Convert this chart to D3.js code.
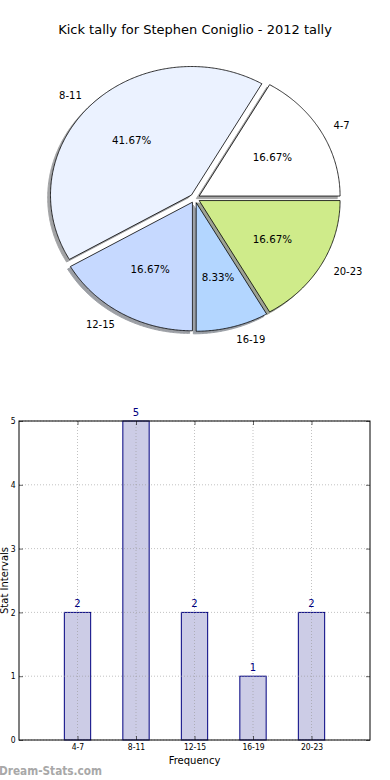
<!DOCTYPE html>
<html><head><meta charset="utf-8">
<script src="https://cdn.jsdelivr.net/npm/d3@7"></script>
<style>html,body{margin:0;padding:0;background:#fff;}svg{display:block;}</style>
</head><body>
<script>
const title = "Kick tally for Stephen Coniglio - 2012 tally";
const categories = ["4-7","8-11","12-15","16-19","20-23"];
const values = [2,5,2,1,2];
const yTicks = [0,1,2,3,4,5];
const pieColors = ["#ffffff","#ebf2ff","#c6d9ff","#b3d6ff","#cfeb8a"];
const explode = [0.035,0.035,0.035,0.035,0.035];

const W = 390, H = 780;
const svg = d3.select("body").append("svg").attr("width", W).attr("height", H);
const FONT = "DejaVu Sans, sans-serif";

svg.append("text").attr("x", 195).attr("y", 34).attr("text-anchor","middle")
  .attr("font-family", FONT).attr("font-size", 13).attr("fill","#000").text(title);

// ---------- Pie ----------
const cx = 194.9, cy = 198.3, rx = 140.9, ry = 128.6;
const px = d3.scaleLinear().domain([-1,1]).range([cx-rx, cx+rx]);
const py = d3.scaleLinear().domain([-1,1]).range([cy+ry, cy-ry]);
const total = d3.sum(values);
const arcs = d3.pie().sort(null).startAngle(0).endAngle(2*Math.PI)(values);
const line = d3.line().x(d=>px(d[0])).y(d=>py(d[1]));
function wedgePts(a0, a1, ox, oy){
  const pts = [[ox, oy]];
  const n = Math.max(8, Math.ceil((a1-a0)/0.01));
  for(let i=0;i<=n;i++){ const t = a0 + (a1-a0)*i/n; pts.push([ox+Math.cos(t), oy+Math.sin(t)]); }
  return line(pts) + "Z";
}
function dark(c){ const r = d3.rgb(c); return d3.rgb(r.r*0.3, r.g*0.3, r.b*0.3).toString(); }
const gPie = svg.append("g");
const wedges = arcs.map((a,i)=>{
  const m = (a.startAngle + a.endAngle)/2;
  return {i, a0:a.startAngle, a1:a.endAngle, m, ox: explode[i]*Math.cos(m), oy: explode[i]*Math.sin(m)};
});
// shadows
gPie.selectAll("path.shadow").data(wedges).join("path").attr("class","shadow")
  .attr("d", d=>wedgePts(d.a0, d.a1, d.ox-0.02, d.oy-0.02))
  .attr("fill", d=>dark(pieColors[d.i])).attr("stroke", d=>dark(pieColors[d.i]))
  .attr("stroke-width",1).attr("opacity",0.5);
gPie.selectAll("path.wedge").data(wedges).join("path").attr("class","wedge")
  .attr("d", d=>wedgePts(d.a0, d.a1, d.ox, d.oy))
  .attr("fill", d=>pieColors[d.i]).attr("stroke","#000").attr("stroke-width",0.8)
  .attr("stroke-linejoin","miter");
// labels
gPie.selectAll("text.lab").data(wedges).join("text").attr("class","lab")
  .attr("x", d=>px(d.ox + 1.1*Math.cos(d.m)))
  .attr("y", d=>py(d.oy + 1.1*Math.sin(d.m)))
  .attr("dy","0.35em")
  .attr("text-anchor", d=>Math.cos(d.m)>0 ? "start" : "end")
  .attr("font-family", FONT).attr("font-size", 10).text(d=>categories[d.i]);
const fmt = d3.format(".2f");
gPie.selectAll("text.pct").data(wedges).join("text").attr("class","pct")
  .attr("x", d=>px(d.ox + 0.6*Math.cos(d.m)))
  .attr("y", d=>py(d.oy + 0.6*Math.sin(d.m)))
  .attr("dy","0.35em").attr("text-anchor","middle")
  .attr("font-family", FONT).attr("font-size", 10.3).text(d=>fmt(values[d.i]/total*100)+"%");

// ---------- Bar ----------
const L = 19, R = 370, T = 421, B = 740;
const x = d3.scaleLinear().domain([0,6]).range([L,R]);
const y = d3.scaleLinear().domain([0,5]).range([B,T]);
const xPos = categories.map((c,i)=>i+1);
const bw = 0.45;
const gB = svg.append("g");
gB.selectAll("rect.bar").data(values).join("rect").attr("class","bar")
  .attr("x", (d,i)=>x(xPos[i]-bw/2)).attr("width", x(bw)-x(0))
  .attr("y", d=>y(d)).attr("height", d=>y(0)-y(d))
  .attr("fill","#ccccE6").attr("stroke","#000080").attr("stroke-width",1);
// grid (on top)
gB.selectAll("line.vg").data(xPos).join("line").attr("class","vg")
  .attr("x1",d=>x(d)).attr("x2",d=>x(d)).attr("y1",T).attr("y2",B)
  .attr("stroke","#999").attr("stroke-width",0.6).attr("stroke-dasharray","1,2");
gB.selectAll("line.hg").data(yTicks).join("line").attr("class","hg")
  .attr("x1",L).attr("x2",R).attr("y1",d=>y(d)).attr("y2",d=>y(d))
  .attr("stroke","#999").attr("stroke-width",0.6).attr("stroke-dasharray","1,2");
// ticks inward
const yAxL = d3.axisLeft(y).tickValues(yTicks).tickSize(-4).tickPadding(3.5).tickFormat(d3.format("d"));
const gyl = gB.append("g").attr("transform",`translate(${L},0)`).call(yAxL);
const yAxR = d3.axisRight(y).tickValues(yTicks).tickSize(-4).tickFormat("");
const gyr = gB.append("g").attr("transform",`translate(${R},0)`).call(yAxR);
const xAxB = d3.axisBottom(x).tickValues(xPos).tickSize(-4).tickPadding(4).tickFormat((d,i)=>categories[i]);
const gxb = gB.append("g").attr("transform",`translate(0,${B})`).call(xAxB);
const xAxT = d3.axisTop(x).tickValues(xPos).tickSize(-4).tickFormat("");
const gxt = gB.append("g").attr("transform",`translate(0,${T})`).call(xAxT);
[gyl,gyr,gxb,gxt].forEach(g=>{
  g.select(".domain").remove();
  g.selectAll(".tick line").attr("stroke","#000").attr("stroke-width",0.6);
  g.selectAll("text").attr("font-family","DejaVu Sans Condensed, DejaVu Sans, sans-serif").attr("font-size",8.5).attr("fill","#000");
});
gB.append("rect").attr("x",L).attr("y",T).attr("width",R-L).attr("height",B-T)
  .attr("fill","none").attr("stroke","#000").attr("stroke-width",1);
// value labels
gB.selectAll("text.val").data(values).join("text").attr("class","val")
  .attr("x",(d,i)=>x(xPos[i])).attr("y",d=>y(d)-5).attr("text-anchor","middle")
  .attr("font-family",FONT).attr("font-size",10).attr("fill","#000080").text(d=>d);
// axis labels
svg.append("text").attr("x",(L+R)/2).attr("y",764).attr("text-anchor","middle")
  .attr("font-family",FONT).attr("font-size",10).text("Frequency");
svg.append("text").attr("transform",`translate(7.5,${(T+B)/2}) rotate(-90)`).attr("text-anchor","middle")
  .attr("font-family",FONT).attr("font-size",10).text("Stat Intervals");
// watermark
svg.append("text").attr("x",-1).attr("y",774.5).attr("font-family",FONT).attr("font-size",12)
  .attr("font-weight","bold").attr("fill","#a8a8a8").attr("textLength",103).attr("lengthAdjust","spacingAndGlyphs").text("Dream-Stats.com");
</script>
</body></html>
